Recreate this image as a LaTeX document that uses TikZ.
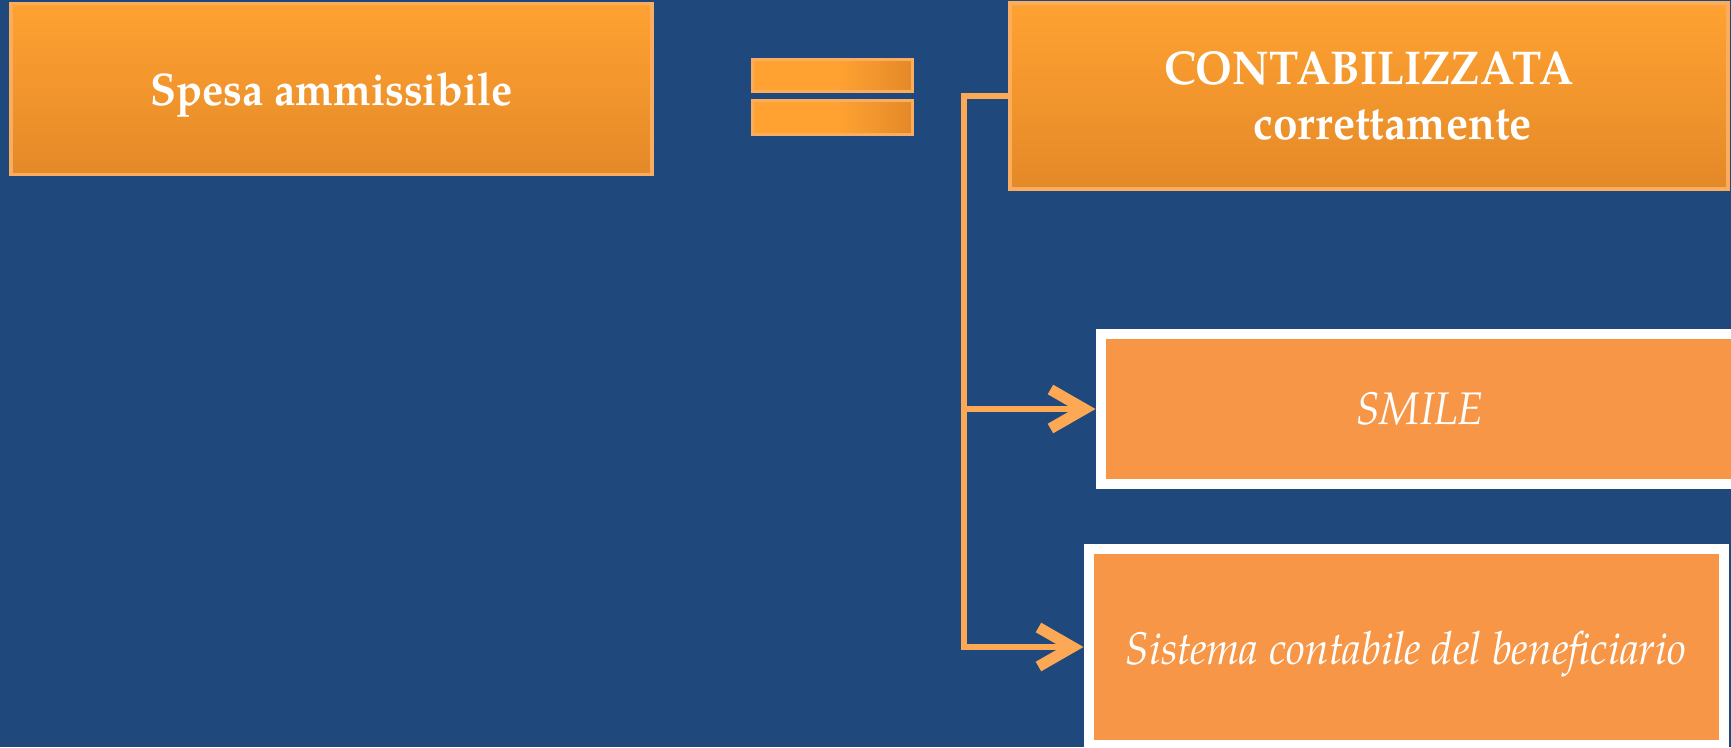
\documentclass[tikz,border=0pt]{standalone}
\usepackage{fontspec}
\setmainfont{TeX Gyre Pagella}[FakeStretch=0.93]
\usetikzlibrary{arrows.meta}
\definecolor{bgblue}{RGB}{31,73,125}
\definecolor{orTop}{RGB}{255,162,50}
\definecolor{orBot}{RGB}{228,137,40}
\definecolor{orEdge}{RGB}{250,172,95}
\definecolor{orFlat}{RGB}{247,150,70}
\definecolor{wire}{RGB}{252,168,85}
% bright bar that darkens only towards its right end
\pgfdeclarehorizontalshading{eqshade}{100bp}{color(0bp)=(orTop); color(25bp)=(orTop);
  color(52bp)=(orTop); color(75bp)=(orBot); color(100bp)=(orBot)}
\tikzset{
  glossbox/.style={rectangle, draw=orEdge, line width=0.35mm,
    top color=orTop, bottom color=orBot, text=white, inner sep=0pt},
  flatbox/.style={rectangle, draw=white, line width=1mm, fill=orFlat,
    text=white, inner sep=0pt},
  eqbar/.style={draw=orEdge, line width=0.3mm, shading=eqshade},
  wireline/.style={draw=wire, line width=0.6mm},
  wirearrow/.style={wireline, -{Straight Barb[length=3.4mm, width=3.9mm, line width=1.1mm]}}
}
% lower a label without changing the size the node sees
\newcommand{\lowertext}[2]{\raisebox{-#1}[\height][\depth]{#2}}
\begin{document}
\begin{tikzpicture}[x=0.1mm, y=-0.1mm]
  % canvas
  \fill[bgblue] (0,0) rectangle (1731,747);
  \useasboundingbox (0,0) rectangle (1731,747);

  % left term
  \node[glossbox, minimum width=64.1mm, minimum height=17.1mm,
        font=\bfseries\fontsize{13}{15}\selectfont] (spesa) at (331.5,89)
        {\lowertext{1.8pt}{Spesa ammissibile}};

  % equals sign
  \shade[eqbar] (752,59) rectangle (912,91);
  \shade[eqbar] (752,100) rectangle (912,134);

  % right term
  \node[glossbox, minimum width=71.8mm, minimum height=18.6mm, align=center,
        font=\bfseries\fontsize{13.5}{15.5}\selectfont] (contab) at (1369,96)
        {CONTABILIZZATA\\\hspace*{1em}correttamente};

  % sub-boxes
  \node[flatbox, minimum width=63.9mm, minimum height=15mm,
        font=\itshape\fontsize{13}{16}\selectfont] (smile) at (1420,409) {SMILE};
  \node[flatbox, minimum width=63.5mm, minimum height=19.6mm,
        font=\itshape\fontsize{13}{16}\selectfont] (sist) at (1406,647)
        {\lowertext{2pt}{Sistema contabile del beneficiario}};

  % connectors
  \coordinate (trunk) at (964,96);
  \draw[wireline] (contab.west) -- (trunk) |- (sist.west -| 1040,0);
  \draw[wirearrow] (trunk |- smile.west) -- (smile.west);
  \draw[wirearrow] (trunk |- sist.west) -- (sist.west);
\end{tikzpicture}
\end{document}
